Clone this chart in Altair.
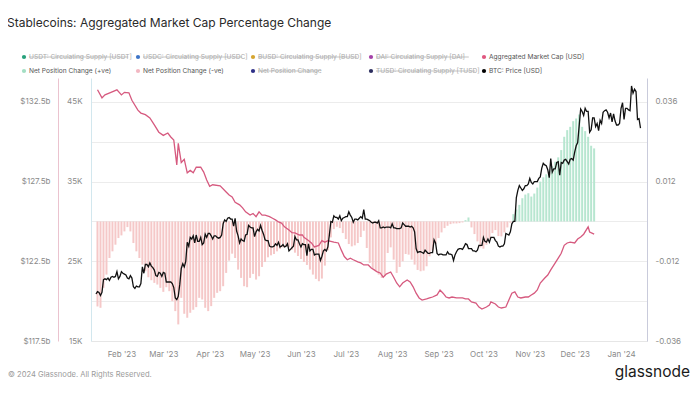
import altair as alt
import pandas as pd

# ---------------- data ----------------
START = pd.Timestamp("2023-01-15")

# BTC price, thousand USD, daily from 2023-01-15
btc_jan23 = [20.9, 21.2, 21.1, 20.7, 21.1, 22.7, 22.8, 22.7, 22.9, 22.6, 23.0, 23.1, 23.0, 23.1, 23.7, 22.8, 23.1]
btc_feb23 = [23.7, 23.5, 23.4, 23.3, 22.9, 22.8, 23.2, 22.9, 21.8, 21.6, 21.9, 21.8, 21.8, 22.2, 24.3, 23.5, 24.6, 24.6,
             24.3, 24.8, 24.4, 24.2, 23.9, 23.2, 23.1, 23.6, 23.5, 23.1]
btc_mar23 = [23.6, 23.5, 22.4, 22.4, 22.4, 22.4, 22.2, 21.7, 20.4, 20.2, 20.6, 22.1, 24.1, 24.7, 24.3, 25.0, 27.4, 26.9,
             28.0, 27.8, 28.2, 27.3, 28.3, 27.5, 27.5, 28.0, 27.1, 27.3, 28.4, 28.0, 28.5]
btc_apr23 = [28.5, 28.2, 27.8, 28.2, 28.2, 28.0, 27.9, 28.0, 28.3, 29.7, 30.2, 30.0, 30.4, 30.5, 30.3, 30.3, 29.4, 30.4,
             28.8, 28.2, 27.3, 27.8, 27.6, 27.5, 28.3, 28.4, 29.5, 29.3, 29.2, 29.2]
btc_may23 = [28.1, 28.7, 29.0, 28.8, 29.5, 28.9, 28.4, 27.7, 27.6, 27.6, 26.9, 26.8, 26.8, 26.9, 27.2, 27.0, 27.4, 26.8,
             26.9, 27.1, 26.8, 26.9, 27.2, 26.3, 26.5, 26.7, 26.9, 28.1, 27.7, 27.7, 27.2]
btc_jun23 = [26.8, 27.2, 27.1, 27.1, 25.7, 27.2, 26.3, 26.5, 26.5, 25.8, 25.9, 25.9, 25.9, 25.1, 25.6, 26.3, 26.5, 26.3,
             26.8, 28.3, 30.0, 29.9, 30.7, 30.5, 30.5, 30.3, 30.7, 30.1, 30.4, 30.5]
btc_jul23 = [30.6, 30.6, 31.2, 30.8, 30.5, 29.9, 30.3, 30.3, 30.2, 30.4, 30.6, 30.4, 31.5, 30.3, 30.3, 30.2, 30.1, 29.9,
             29.8, 29.9, 29.9, 29.8, 30.1, 29.2, 29.2, 29.3, 29.2, 29.3, 29.3, 29.3, 29.2]
btc_aug23 = [29.7, 29.2, 29.2, 29.1, 29.1, 29.1, 29.2, 29.8, 29.6, 29.4, 29.4, 29.4, 29.3, 29.4, 29.2, 28.7, 26.6, 26.1,
             26.2, 26.2, 26.1, 26.0, 26.4, 26.2, 26.0, 26.0, 26.1, 26.1, 27.7, 27.3, 26.0]
btc_sep23 = [25.8, 25.9, 25.9, 25.8, 25.8, 25.8, 26.2, 25.9, 25.9, 25.8, 25.1, 25.8, 26.2, 26.5, 26.6, 26.6, 26.5, 26.8,
             27.2, 27.1, 26.6, 26.6, 26.6, 26.3, 26.3, 26.2, 26.4, 27.0, 27.0, 27.0]
btc_oct23 = [28.0, 27.5, 27.4, 27.8, 27.4, 28.0, 28.0, 28.0, 27.6, 27.4, 26.9, 26.8, 26.9, 26.9, 27.2, 28.5, 28.4, 28.3,
             28.7, 29.7, 30.0, 30.0, 33.0, 33.9, 34.5, 34.2, 33.9, 34.1, 34.5, 34.5, 34.7]
btc_nov23 = [35.4, 34.9, 34.7, 35.0, 35.0, 35.0, 35.4, 35.6, 36.7, 37.3, 37.1, 37.0, 36.5, 35.5, 37.9, 36.2, 36.6, 36.6,
             37.4, 37.5, 35.8, 37.4, 37.3, 37.7, 37.8, 37.5, 37.2, 37.8, 37.9, 37.7]
btc_dec23 = [38.7, 39.5, 39.9, 42.0, 44.1, 43.8, 43.3, 44.2, 43.8, 43.8, 41.2, 41.5, 43.0, 43.0, 41.9, 42.3, 41.4, 42.7,
             42.3, 43.7, 43.9, 44.0, 43.7, 43.0, 43.6, 42.5, 43.5, 42.6, 42.1, 42.1, 42.3]
btc_jan24 = [44.2, 44.9, 42.8, 44.2, 44.2, 44.0, 43.9, 47.0, 46.1, 46.6, 46.3, 42.8, 42.9, 41.7]

# Aggregated stablecoin market cap (USD billions): day offset from 2023-01-15, value
mcap_day = [1, 4, 6, 10, 14, 17, 19, 22, 24, 28, 30, 33, 36, 39, 42, 45, 48, 50, 52, 54, 55, 57, 59, 61, 63, 65, 67,
            70, 72, 74, 76, 78, 83, 87, 89, 91, 93, 96, 98, 100, 103, 105, 107, 109, 111, 113, 116, 118, 120, 122, 124,
            126, 129, 131, 133, 136, 138, 139, 142, 144, 146, 149, 151, 153, 155, 157, 159, 162, 164, 166, 168, 170,
            172, 175, 177, 179, 182, 184, 186, 188, 190, 192, 194, 197, 199, 201, 203, 205, 208, 210, 212, 214, 216,
            218, 221, 223, 225, 228, 230, 232, 234, 236, 238, 241, 243, 245, 247, 249, 251, 254, 256, 258, 261, 263,
            264, 267, 269, 271, 274, 276, 278, 280, 282, 284, 287, 289, 291, 293, 295, 297, 300, 302, 304, 307, 309,
            311, 313, 315, 317, 320, 322, 324, 326, 329, 330, 333]
mcap_bn = [133.26, 132.75, 132.94, 133.10, 133.26, 132.94, 133.10, 133.07, 132.60, 131.98, 131.80, 131.70, 131.50,
           131.06, 130.60, 130.40, 130.55, 130.30, 130.10, 128.55, 129.90, 128.70, 128.90, 128.05, 128.20, 128.05,
           128.40, 128.40, 128.10, 127.60, 127.20, 127.30, 127.23, 126.85, 126.66, 126.54, 126.20, 126.04, 125.85,
           125.60, 125.40, 125.50, 125.30, 125.60, 125.40, 125.40, 125.30, 125.20, 125.10, 124.97, 124.90, 124.66,
           124.47, 124.30, 124.28, 124.15, 124.15, 124.00, 123.80, 123.65, 123.40, 123.50, 123.80, 123.70, 123.80,
           123.75, 123.70, 123.65, 123.20, 122.80, 122.60, 122.70, 122.60, 122.46, 122.40, 122.27, 122.27, 122.08,
           121.96, 121.83, 121.77, 121.50, 121.70, 121.83, 121.50, 121.14, 120.90, 121.14, 121.33, 121.20, 120.90,
           120.50, 120.20, 120.07, 120.14, 120.20, 120.26, 120.39, 120.70, 120.50, 120.26, 120.20, 120.26, 120.20,
           120.20, 120.20, 120.14, 120.14, 119.95, 119.88, 119.63, 119.50, 119.63, 119.76, 119.95, 119.82, 119.63,
           119.57, 119.63, 120.07, 120.50, 120.58, 120.26, 120.20, 120.26, 120.26, 120.39, 120.50, 120.70, 121.14,
           121.45, 121.64, 121.96, 122.40, 122.70, 123.00, 123.50, 123.65, 123.70, 123.65, 123.90, 124.03, 124.20,
           124.66, 124.34, 124.20]

# Net position change (fraction), one bar every 2 days from 2023-01-16
npc_values = [-0.0256, -0.026, -0.020, -0.016, -0.011, -0.009, -0.007, -0.005, -0.0042, -0.003, -0.0017, -0.003,
              -0.0065, -0.009, -0.011, -0.013, -0.015, -0.0168, -0.0177, -0.0185, -0.019, -0.020, -0.0212, -0.0198,
              -0.021, -0.024, -0.027, -0.031, -0.023, -0.0278, -0.029, -0.0275, -0.0266, -0.0258, -0.023, -0.0235,
              -0.026, -0.027, -0.0255, -0.023, -0.0215, -0.021, -0.0195, -0.0155, -0.0118, -0.0097, -0.011, -0.0145,
              -0.017, -0.0195, -0.0198, -0.017, -0.0158, -0.0175, -0.0165, -0.0137, -0.0122, -0.0108, -0.0102,
              -0.0098, -0.009, -0.0083, -0.0078, -0.0076, -0.0078, -0.0085, -0.0094, -0.0104, -0.0113, -0.0122,
              -0.0131, -0.0145, -0.016, -0.0173, -0.018, -0.0172, -0.0133, -0.0087, -0.0048, -0.0023, -0.0016,
              -0.002, -0.0035, -0.0053, -0.0068, -0.0075, -0.0072, -0.0065, -0.0047, -0.0028, -0.008, -0.0125,
              -0.0142, -0.015, -0.016, -0.017, -0.0165, -0.0095, -0.0078, -0.0115, -0.0155, -0.0137, -0.012,
              -0.0098, -0.010, -0.0115, -0.013, -0.0146, -0.015, -0.0148, -0.0135, -0.0105, -0.0087, -0.0068,
              -0.005, -0.0033, -0.002, -0.0013, -0.0008, -0.0006, -0.0006, -0.0005, -0.0003, 0.0004, 0.0012,
              -0.0018, -0.0038, -0.006, -0.0078, -0.0082, -0.007, -0.0052, -0.0035, -0.0026, -0.0044, -0.0045,
              -0.0033, -0.0018, -0.0004, 0.0022, 0.0036, 0.005, 0.007, 0.0081, 0.0085, 0.0075, 0.0084, 0.0102,
              0.012, 0.0133, 0.0142, 0.0153, 0.0166, 0.018, 0.0193, 0.0215, 0.0255, 0.0275, 0.0285, 0.0302, 0.031,
              0.0322, 0.0285, 0.0272, 0.0255, 0.0228, 0.022]

month_labels_years = [(2023, m) for m in range(2, 13)] + [(2024, 1)]

legend_row1 = ["USDT: Circulating Supply [USDT]", "USDC: Circulating Supply [USDC]", "BUSD: Circulating Supply [BUSD]",
               "DAI: Circulating Supply [DAI]", "Aggregated Market Cap [USD]"]
legend_row2 = ["Net Position Change (+ve)", "Net Position Change (-ve)", "Net Position Change",
               "TUSD: Circulating Supply [TUSD]", "BTC: Price [USD]"]

# ---------------- frames ----------------
btc_k = (btc_jan23 + btc_feb23 + btc_mar23 + btc_apr23 + btc_may23 + btc_jun23 + btc_jul23 + btc_aug23 + btc_sep23
         + btc_oct23 + btc_nov23 + btc_dec23 + btc_jan24)
btc_df = pd.DataFrame({"date": pd.date_range(START, periods=len(btc_k), freq="D"),
                       "btc": [v * 1000 for v in btc_k]})
mcap_df = pd.DataFrame({"date": [START + pd.Timedelta(days=d) for d in mcap_day], "mcap": mcap_bn})
npc_df = pd.DataFrame({"date": [START + pd.Timedelta(days=1 + 2 * i) for i in range(len(npc_values))],
                       "npc": npc_values})

FONT = "Inter"
LBL = "#8a8a8a"
AX_FS = 8

x_scale = alt.Scale(domain=[alt.DateTime(year=2023, month=1, date=15),
                            alt.DateTime(year=2024, month=1, date=15)])
x_axis = alt.Axis(values=[alt.DateTime(year=y, month=m, date=1) for y, m in month_labels_years],
                  format="%b '%y", labelFontSize=AX_FS, labelColor=LBL, labelFont=FONT, domainColor="#e6e6e6",
                  ticks=False, grid=False, labelPadding=9, title=None, labelFlush=False)
X = alt.X("date:T", scale=x_scale, axis=x_axis)

bars = alt.Chart(npc_df).mark_bar(width=2).encode(
    x=X,
    y=alt.Y("npc:Q", scale=alt.Scale(domain=[-0.036, 0.0432], nice=False, zero=False),
            axis=alt.Axis(orient="right", values=[-0.036, -0.012, 0.012, 0.036],
                          labelExpr="(datum.value < 0 ? '-' : '') + format(abs(datum.value), '.3f')",
                          grid=False, ticks=False, domainColor="#c9cbdb", labelPadding=8, labelFontSize=AX_FS,
                          labelColor=LBL, labelFont=FONT, title=None, labelOverlap=False)),
    y2=alt.datum(0),
    color=alt.condition("datum.npc >= 0", alt.value("#b7e6d0"), alt.value("#f5c8c8")),
)

mcap_line = alt.Chart(mcap_df).mark_line(color="#d65a7f", strokeWidth=1.3).encode(
    x=X,
    y=alt.Y("mcap:Q", scale=alt.Scale(domain=[117.5, 134.0], nice=False, zero=False),
            axis=alt.Axis(orient="left", offset=33, values=[117.5, 122.5, 127.5, 132.5],
                          labelExpr="'$' + format(datum.value, '.1f') + 'b'", grid=False, ticks=False,
                          domainColor="#ebc3cf", labelPadding=8, labelFontSize=AX_FS, labelColor=LBL,
                          labelFont=FONT, title=None, labelOverlap=False)),
)

btc_line = alt.Chart(btc_df).mark_line(color="#111111", strokeWidth=1.3).encode(
    x=X,
    y=alt.Y("btc:Q", scale=alt.Scale(domain=[15000, 48000], nice=False, zero=False),
            axis=alt.Axis(orient="left", offset=0, values=list(range(15000, 45001, 5000)),
                          labelExpr="datum.value % 10000 == 5000 ? (datum.value / 1000) + 'K' : ''",
                          grid=True, gridColor="#ececec", ticks=False, domainColor="#d2e7ee",
                          labelPadding=9, labelFontSize=AX_FS, labelColor=LBL, labelFont=FONT, title=None,
                          labelOverlap=False)),
)

# ---------------- annotations (title, legend, footer) ----------------
ONE = alt.Data(values=[{}])
ann = []


def text(t, x, y, size, color, align="left", weight="normal"):
    return alt.Chart(ONE).mark_text(text=t, align=align, baseline="middle", fontSize=size, color=color,
                                    font=FONT, fontWeight=weight).encode(x=alt.value(x), y=alt.value(y))


OX, OY = 91, 78  # page position of the plot origin
ann.append(text("Stablecoins: Aggregated Market Cap Percentage Change", 7 - OX, 23 - OY, 12, "#2a2a2a"))

LEG_FS = 6.6
leg_x = [24, 138, 253, 371, 484]
row1_col = ["#26a17b", "#3d74c7", "#d6a52f", "#a441a8", "#e0577f"]
row2_col = ["#a3dec3", "#f2b7c2", "#2d2f87", "#2b2d5e", "#000000"]
row1_off = [True, True, True, True, False]
row2_off = [False, False, True, True, False]
for row_y, labels, cols, offs in [(57, legend_row1, row1_col, row1_off), (71, legend_row2, row2_col, row2_off)]:
    for lx, lab, c, off in zip(leg_x, labels, cols, offs):
        ann.append(alt.Chart(ONE).mark_circle(size=18, color=c, opacity=1).encode(
            x=alt.value(lx - OX), y=alt.value(row_y - OY)))
        ann.append(text(lab, lx + 5 - OX, row_y - OY, LEG_FS, "#ababab" if off else "#555555"))
        if off:
            w = len(lab) * 3.2
            ann.append(alt.Chart(ONE).mark_rule(color="#ababab", strokeWidth=0.7).encode(
                x=alt.value(lx + 5 - OX), x2=alt.value(lx + 5 + w - OX), y=alt.value(row_y - OY)))

ann.append(text("© 2024 Glassnode. All Rights Reserved.", 8 - OX, 375 - OY, 7.6, "#9b9b9b"))
ann.append(text("glassnode", 690 - OX, 372 - OY, 15.5, "#1a1a1a", align="right"))

chart = alt.layer(bars, mcap_line, btc_line, *ann).resolve_scale(y="independent").properties(
    width=556, height=263,
    autosize=alt.AutoSizeParams(type="none"),
    padding={"left": 83, "top": 70, "right": 43, "bottom": 40},
    background="white",
).configure_view(stroke=None)

chart.save("out.html", embed_options={"renderer": "svg", "actions": False})
